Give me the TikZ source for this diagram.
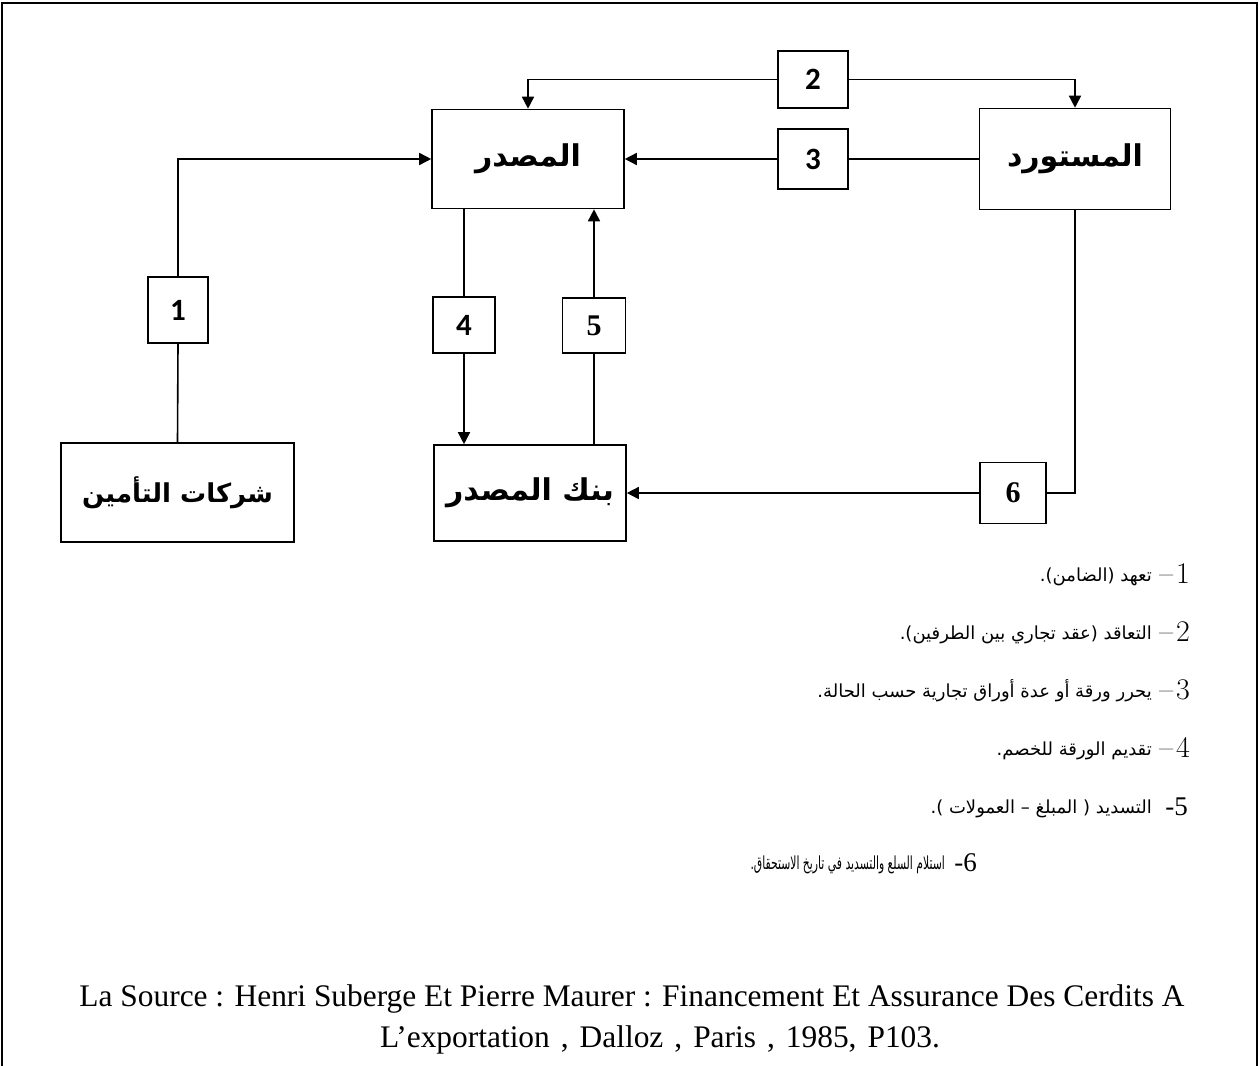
\documentclass[tikz,border=0pt]{standalone}
\usepackage{fontspec}
\usetikzlibrary{arrows.meta,calc}
\TeXXeTstate=1
\newfontfamily\arabicfont[Script=Arabic]{DejaVu Sans}
\newfontfamily\timesfont{Liberation Serif}
\newfontfamily\calibrifont{Carlito}
\begin{document}
\begin{tikzpicture}[x=1pt,y=-1pt,
  box/.style={draw,line width=1.6pt,inner sep=0pt,
    font=\arabicfont\bfseries\fontsize{30}{34}\selectfont},
  numbox/.style={draw,line width=1.6pt,inner sep=0pt,
    font=\calibrifont\bfseries\fontsize{31}{34}\selectfont},
  numboxs/.style={numbox,font=\timesfont\bfseries\fontsize{30}{34}\selectfont},
  link/.style={line width=1.6pt},
  arr/.style={link,-{Triangle[length=12pt,width=12pt]}},
  lnum/.style={anchor=base east,inner sep=0pt,font=\fontsize{30}{34}\selectfont},
  lnums/.style={anchor=base east,inner sep=0pt,font=\timesfont\fontsize{27}{30}\selectfont},
  ltext/.style={anchor=base east,inner sep=0pt,font=\arabicfont\fontsize{18}{22}\selectfont},
  srcline/.style={inner sep=0pt,font=\timesfont\fontsize{31.4}{36}\selectfont}
]
\useasboundingbox (0,0) rectangle (1260,1065);
% page frame, open at the foot where the page is cut
\draw[line width=2pt] (2,1066) -- (2,3) -- (1257,3) -- (1257,1066);

% parties
\node[box,minimum width=192pt,minimum height=99pt] (exp) at (528,159) {\beginR المصدر\endR};
\node[box,minimum width=191pt,minimum height=101pt] (imp) at (1075,159) {\beginR المستورد\endR};
\node[box,minimum width=233pt,minimum height=99pt,font=\arabicfont\bfseries\fontsize{26}{30}\selectfont] (ins) at (177.5,492.5) {\beginR شركات التأمين\endR};
\node[box,minimum width=192pt,minimum height=96pt] (bank) at (530,493) {\beginR بنك المصدر\endR};

% step numbers
\node[numbox,minimum width=60pt,minimum height=66pt] (b1) at (178,310) {1};
\node[numbox,minimum width=70pt,minimum height=57pt] (b2) at (813,79.5) {2};
\node[numbox,minimum width=70pt,minimum height=60pt] (b3) at (813,159) {3};
\node[numbox,minimum width=62pt,minimum height=56pt] (b4) at (464,325) {4};
\node[numboxs,minimum width=63pt,minimum height=55pt] (b5) at (594,325.5) {5};
\node[numboxs,minimum width=66pt,minimum height=61pt] (b6) at (1013,493) {6};

% flows
\draw[link] (ins.north) -- (b1.south);
\draw[arr] (b1.north) |- (exp.west);
\draw[arr] (b2.west) -| (exp.north);
\draw[arr] (b2.east) -| (imp.north);
\draw[link] (imp.west) -- (b3.east);
\draw[arr] (b3.west) -- (exp.east);
\draw[link] (exp.south -| b4.north) -- (b4.north);
\draw[arr] (b4.south) -- (b4.south |- bank.north);
\draw[link] (bank.north -| b5.south) -- (b5.south);
\draw[arr] (b5.north) -- (b5.north |- exp.south);
\draw[link] (imp.south) |- (b6.east);
\draw[arr] (b6.west) -- (bank.east);

% legend
\node[lnum] (n1) at (1190,583) {\textendash\kern3pt1};
\node[ltext] (t1) at (1152,581) {\beginR تعهد (الضامن).\endR};
\node[lnum] (n2) at (1190,641) {\textendash\kern3pt2};
\node[ltext] (t2) at (1152,639) {\beginR التعاقد (عقد تجاري بين الطرفين).\endR};
\node[lnum] (n3) at (1190,699) {\textendash\kern3pt3};
\node[ltext] (t3) at (1152,697) {\beginR يحرر ورقة أو عدة أوراق تجارية حسب الحالة.\endR};
\node[lnum] (n4) at (1190,757) {\textendash\kern3pt4};
\node[ltext] (t4) at (1152,755) {\beginR تقديم الورقة للخصم.\endR};
\node[lnums] (n5) at (1188,815) {-5};
\node[ltext] (t5) at (1152,813) {\beginR التسديد ( المبلغ – العمولات ).\endR};
\node[lnums] (n6) at (977,871) {-6};
\node[ltext] (t6) at (945,869) {\scalebox{0.6}[1]{\beginR استلام السلع والتسديد في تاريخ الاستحقاق.\endR}};

% reference
\node[srcline] (s1) at (632,999) {La Source : Henri Suberge Et Pierre Maurer : Financement Et Assurance Des Cerdits A};
\node[srcline] (s2) at (660,1040) {\spaceskip=11pt plus 2pt L’exportation , Dalloz , Paris , 1985, P103.};
\end{tikzpicture}
\end{document}
